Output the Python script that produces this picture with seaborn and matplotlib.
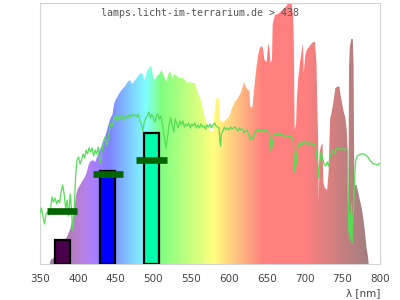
import numpy as np
import matplotlib
matplotlib.use("Agg")
import matplotlib.pyplot as plt
import seaborn as sns

# ---------------- data ----------------
# lamp spectrum (relative intensity), wavelength in nm
spec_wl = [363, 364, 368, 372, 378, 385, 390, 392, 394, 396, 398, 400, 403, 407, 410,
           412, 414, 416, 420, 423, 426, 429, 431, 433, 436, 438, 441, 443, 446, 448,
           450, 453, 456, 459, 463, 466, 469, 472, 474, 477, 480, 483, 486, 488, 490,
           492, 494, 496, 498, 500, 502, 505, 508, 511, 514, 517, 520, 522, 525, 528,
           531, 535, 539, 542, 545, 548, 552, 555, 557, 559, 562, 564, 566, 568, 571,
           573, 575, 579, 580, 581, 583, 585, 587, 588, 590, 593, 595, 599, 602, 604,
           608, 612, 615, 617, 620, 622, 624, 627, 628, 631, 633, 635, 637, 639, 641,
           643, 645, 647, 650, 652, 654, 655, 657, 658, 661, 665, 668, 671, 674, 677,
           680, 683, 685, 686, 687, 689, 690, 692, 694, 696, 698, 699, 701, 703, 705,
           708, 710, 712, 714, 716, 717, 718, 719, 720, 722, 724, 725, 727, 730, 732,
           734, 736, 738, 741, 743, 746, 748, 750, 752, 754, 756, 757, 758, 759, 760,
           762, 764, 765, 766, 767, 769, 771, 774, 776, 778, 780, 782, 784, 785]
spec_val = [0, 4, 6, 12, 18, 26, 35, 41, 48, 58, 70, 75, 79, 84, 88,
            92, 98, 102, 104, 102, 108, 114, 117, 122, 126, 132, 140, 145, 150, 160,
            164, 168, 172, 175, 178, 182, 184, 180, 182, 185, 188, 191, 190, 184, 188,
            194, 195, 198, 196, 186, 184, 188, 190, 194, 188, 182, 190, 193, 186, 190,
            188, 186, 186, 184, 181, 182, 181, 181, 176, 171, 166, 161, 154, 147, 141,
            137, 133, 133, 144, 152, 165, 166, 165, 145, 142, 142, 144, 146, 150, 156,
            162, 166, 170, 174, 182, 178, 175, 173, 158, 156, 172, 187, 200, 210, 216,
            218, 216, 204, 202, 221, 214, 201, 204, 240, 249, 250, 252, 254, 256, 259,
            262, 262, 249, 220, 134, 140, 167, 187, 201, 211, 221, 190, 208, 214, 216,
            219, 221, 222, 222, 200, 157, 130, 61, 112, 118, 121, 82, 76, 74, 92,
            145, 152, 160, 176, 177, 178, 168, 160, 152, 147, 134, 117, 20, 197, 217,
            225, 225, 200, 81, 79, 79, 72, 62, 55, 45, 33, 17, 8, 0]

# reference daylight curve
sun_wl = [350, 352, 354, 356, 358, 360, 362, 364, 366, 368, 370, 372, 374, 376, 378,
          380, 382, 384, 386, 388, 390, 392, 393, 395, 397, 399, 401, 403, 405, 407,
          409, 411, 413, 415, 417, 419, 421, 423, 425, 427, 429, 430, 432, 434, 436,
          438, 440, 442, 444, 446, 448, 450, 452, 454, 456, 458, 460, 462, 464, 466,
          468, 470, 472, 474, 476, 478, 480, 482, 484, 486, 488, 490, 492, 494, 496,
          498, 500, 502, 504, 506, 508, 510, 512, 514, 516, 517, 519, 521, 523, 525,
          527, 529, 531, 533, 535, 537, 539, 541, 543, 545, 547, 549, 551, 553, 555,
          557, 559, 561, 563, 565, 567, 569, 571, 573, 575, 577, 579, 581, 583, 585,
          587, 588, 589, 590, 592, 594, 596, 598, 600, 602, 604, 606, 608, 610, 612,
          614, 616, 618, 620, 622, 624, 626, 628, 630, 632, 634, 636, 638, 640, 642,
          644, 646, 648, 650, 652, 654, 656, 657, 659, 661, 663, 665, 667, 669, 671,
          673, 675, 677, 679, 681, 683, 685, 686, 687, 689, 690, 692, 694, 696, 698,
          700, 702, 704, 706, 708, 710, 712, 714, 716, 718, 719, 720, 722, 724, 726,
          728, 730, 732, 734, 736, 738, 740, 742, 744, 746, 748, 750, 752, 754, 756,
          757, 758, 759, 760, 761, 762, 763, 764, 765, 766, 767, 768, 770, 772, 775,
          778, 781, 784, 787, 789, 791, 794, 797, 800]
sun_val = [51, 56, 47, 40, 50, 52, 49, 55, 67, 62, 66, 60, 64, 61, 72,
           79, 70, 55, 64, 48, 70, 52, 34, 47, 87, 104, 107, 100, 104, 110,
           106, 114, 110, 116, 112, 116, 108, 114, 110, 117, 104, 101, 112, 122, 127,
           118, 124, 134, 141, 138, 147, 143, 149, 144, 148, 145, 148, 144, 148, 146,
           149, 147, 150, 148, 149, 147, 150, 144, 140, 133, 142, 146, 148, 152, 146,
           150, 146, 142, 148, 150, 145, 148, 140, 130, 120, 116, 128, 140, 146, 138,
           132, 145, 140, 136, 143, 139, 143, 137, 140, 138, 141, 136, 140, 138, 141,
           136, 139, 136, 140, 137, 138, 135, 139, 137, 140, 136, 139, 141, 138, 137,
           136, 124, 118, 130, 133, 137, 134, 136, 134, 137, 135, 136, 137, 135, 133,
           136, 134, 135, 131, 133, 134, 130, 124, 128, 125, 130, 134, 132, 135, 134,
           132, 135, 133, 134, 131, 130, 112, 118, 128, 131, 129, 131, 128, 130, 129,
           127, 129, 128, 127, 128, 126, 125, 110, 92, 100, 112, 118, 122, 118, 121,
           123, 120, 122, 119, 121, 120, 118, 120, 110, 96, 86, 100, 112, 106, 100,
           98, 102, 98, 108, 112, 114, 110, 115, 116, 115, 114, 116, 115, 114, 115,
           113, 60, 31, 50, 24, 60, 21, 47, 55, 78, 95, 104, 108, 109, 110,
           110, 109, 107, 103, 102, 100, 100, 99, 101]

# bands: centre wavelength, bar height, marker level
band_center = [379.5, 439.5, 497.5]
band_height = [24.5, 93, 131.5]
marker_level = [52.7, 89.7, 104]

title_text = "lamps.licht-im-terrarium.de > 438"
x_ticks = [350, 400, 450, 500, 550, 600, 650, 700, 750, 800]

# ---------------- style ----------------
sns.set_style("white")
plt.rcParams["font.family"] = ["DejaVu Sans"]

band_colors = ["#4b004b", "#0000ff", "#00ffaa"]


def wl_rgb(l):
    l = min(max(l, 380.0), 780.0)
    if l < 440:
        r, g, b = (440 - l) / 60, 0.0, 1.0
    elif l < 490:
        r, g, b = 0.0, (l - 440) / 50, 1.0
    elif l < 510:
        r, g, b = 0.0, 1.0, (510 - l) / 20
    elif l < 580:
        r, g, b = (l - 510) / 70, 1.0, 0.0
    elif l < 645:
        r, g, b = 1.0, (645 - l) / 65, 0.0
    else:
        r, g, b = 1.0, 0.0, 0.0
    if l < 420:
        f = 0.3 + 0.7 * (l - 380) / 40
    elif l <= 700:
        f = 1.0
    else:
        f = 0.3 + 0.7 * (780 - l) / 80
    return 0.5 + 0.5 * np.array([r, g, b]) * f


fig = plt.figure(figsize=(4, 3), dpi=100)
ax = fig.add_axes([0.1, 0.12, 0.85, 0.87])

# spectrum fill, coloured by wavelength
poly = ax.fill_between(spec_wl, spec_val, 0, color="none", lw=0)
grad_wl = np.linspace(350, 800, 451)
grad = np.array([[wl_rgb(l) for l in grad_wl]])
im = ax.imshow(grad, extent=[350, 800, 0, 261], aspect="auto", origin="lower",
               zorder=1, interpolation="nearest")
im.set_clip_path(poly.get_paths()[0], transform=ax.transData)

# reference curve
sns.lineplot(x=sun_wl, y=sun_val, ax=ax, color="#55dd55", lw=0.9, zorder=3)

# bands
ax.bar(band_center, band_height, width=20, color=band_colors,
       edgecolor="black", linewidth=1.6, zorder=4)
ax.hlines(marker_level, [c - 20 for c in band_center], [c + 20 for c in band_center],
          color="#006400", lw=4.8, zorder=5)

ax.set_xlim(350, 800)
ax.set_ylim(0, 261)
ax.set_xticks(x_ticks)
ax.set_yticks([])
ax.tick_params(axis="x", length=0, pad=7, labelsize=7.5, labelcolor="#444444")
for s in ax.spines.values():
    s.set_color("#d4d4d4")
    s.set_linewidth(0.8)
ax.set_xlabel("λ [nm]", loc="right", fontsize=7.5, color="#444444", labelpad=3)

fig.text(0.5, 0.958, title_text, ha="center", va="center",
         family="DejaVu Sans Mono", fontsize=7.2, color="#555555", zorder=10)

fig.savefig("out.png", dpi=100)
